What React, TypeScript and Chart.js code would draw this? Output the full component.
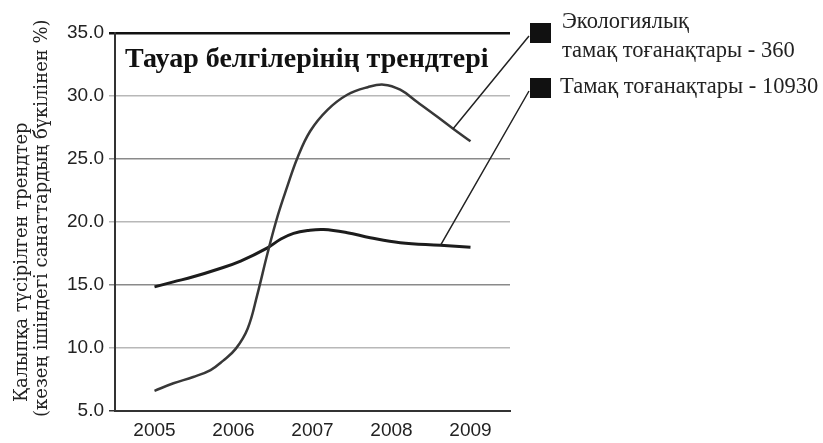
import React, { useEffect, useRef } from 'react';
import { Chart, registerables } from 'chart.js';

Chart.register(...registerables);

const titleText = 'Тауар белгілерінің трендтері';
const yTitleLines = ['Қалыпқа түсірілген трендтер', '(кезең ішіндегі санаттардың бүкілінен %)'];
const ecoLabelLines = ['Экологиялық', 'тамақ тоғанақтары - 360'];
const foodLabel = 'Тамақ тоғанақтары - 10930';
const yearTicks = [2005, 2006, 2007, 2008, 2009];

const ecoYears = [2005.0, 2005.24, 2005.49, 2005.71, 2005.87, 2006.03, 2006.18, 2006.3, 2006.43, 2006.56, 2006.68, 2006.81, 2006.97, 2007.19, 2007.44, 2007.7, 2007.9, 2008.11, 2008.33, 2008.58, 2008.78, 2009.0];
const ecoValues = [6.6, 7.2, 7.7, 8.25, 9.0, 9.95, 11.55, 14.2, 17.5, 20.5, 22.8, 25.1, 27.2, 28.9, 30.1, 30.7, 30.9, 30.5, 29.5, 28.35, 27.4, 26.4];

const foodYears = [2005.0, 2005.24, 2005.49, 2005.8, 2006.09, 2006.43, 2006.6, 2006.76, 2006.95, 2007.14, 2007.44, 2007.73, 2008.11, 2008.62, 2009.0];
const foodValues = [14.85, 15.25, 15.65, 16.25, 16.9, 17.95, 18.65, 19.1, 19.33, 19.4, 19.15, 18.75, 18.35, 18.15, 18.0];

const ecoLeaderIndex = 20;
const foodLeaderIndex = 13;

const decor = {
  id: 'decor',
  afterDraw(chart: any) {
    const ctx = chart.ctx;
    const xs = chart.scales.x;
    const ys = chart.scales.y;
    ctx.save();
    ctx.textAlign = 'left';
    ctx.textBaseline = 'alphabetic';

    // title inside plot
    ctx.fillStyle = '#111';
    ctx.font = 'bold 28px "Liberation Serif"';
    ctx.fillText(titleText, 125, 67);

    // y axis title (two rotated lines)
    ctx.font = '18px "DejaVu Serif"';
    ctx.fillStyle = '#222';
    const pos = [
      [27, 402],
      [47, 417],
    ];
    yTitleLines.forEach((t, i) => {
      ctx.save();
      ctx.translate(pos[i][0], pos[i][1]);
      ctx.rotate(-Math.PI / 2);
      ctx.fillText(t, 0, 0);
      ctx.restore();
    });

    // legend markers
    ctx.fillStyle = '#111';
    ctx.fillRect(530, 23, 21, 20);
    ctx.fillRect(530, 78, 21, 20);

    // legend text
    ctx.font = '22.5px "Liberation Serif"';
    ctx.fillStyle = '#222';
    ctx.fillText(ecoLabelLines[0], 562, 28);
    ctx.fillText(ecoLabelLines[1], 562, 57);
    ctx.fillText(foodLabel, 560, 93);

    // leader lines
    ctx.strokeStyle = '#222';
    ctx.lineWidth = 1.5;
    ctx.beginPath();
    ctx.moveTo(xs.getPixelForValue(ecoYears[ecoLeaderIndex]), ys.getPixelForValue(ecoValues[ecoLeaderIndex]));
    ctx.lineTo(529, 36);
    ctx.moveTo(xs.getPixelForValue(foodYears[foodLeaderIndex]), ys.getPixelForValue(foodValues[foodLeaderIndex]));
    ctx.lineTo(529, 91);
    ctx.stroke();
    ctx.restore();
  },
};

export default function App() {
  const ref = useRef<HTMLCanvasElement | null>(null);

  useEffect(() => {
    if (!ref.current) return;
    const gridColor = (c: any) => {
      const v = c.tick ? c.tick.value : null;
      if (v === 35) return '#111';
      if (v === 5) return '#333';
      if (v === 25 || v === 15) return '#8a8a8a';
      return '#b8b8b8';
    };
    const gridWidth = (c: any) => {
      const v = c.tick ? c.tick.value : null;
      if (v === 35) return 2.5;
      return 1.5;
    };
    const chart = new Chart(ref.current, {
      type: 'line',
      data: {
        datasets: [
          {
            label: ecoLabelLines.join(' '),
            data: ecoYears.map((x, i) => ({ x, y: ecoValues[i] })),
            borderColor: '#383838',
            borderWidth: 2.5,
            pointRadius: 0,
            fill: false,
            tension: 0.4,
          },
          {
            label: foodLabel,
            data: foodYears.map((x, i) => ({ x, y: foodValues[i] })),
            borderColor: '#1c1c1c',
            borderWidth: 3,
            pointRadius: 0,
            fill: false,
            tension: 0.4,
          },
        ],
      },
      options: {
        responsive: false,
        animation: false,
        devicePixelRatio: 1,
        layout: { padding: { left: 0, right: 313, top: 33, bottom: 0 } },
        plugins: {
          legend: { display: false },
          tooltip: { enabled: false },
          title: { display: false },
        },
        scales: {
          x: {
            type: 'linear',
            min: 2004.5,
            max: 2009.5,
            afterBuildTicks: (s: any) => {
              s.ticks = yearTicks.map((v) => ({ value: v }));
            },
            afterFit: (s: any) => {
              s.height = 32;
            },
            grid: { display: false, drawTicks: false },
            border: { display: true, color: '#333', width: 2 },
            ticks: {
              autoSkip: false,
              maxRotation: 0,
              padding: 8,
              color: '#222',
              font: { family: 'Liberation Sans', size: 19 },
              callback: (v: any) => String(v),
            },
          },
          y: {
            type: 'linear',
            min: 5,
            max: 35,
            afterFit: (s: any) => {
              s.width = 115;
            },
            grid: { color: gridColor, lineWidth: gridWidth, drawTicks: true, tickLength: 6 },
            border: { display: true, color: '#333', width: 2 },
            ticks: {
              stepSize: 5,
              padding: 5,
              color: '#222',
              font: { family: 'Liberation Sans', size: 19 },
              callback: (v: any) => Number(v).toFixed(1),
            },
          },
        },
      },
      plugins: [decor],
    } as any);
    return () => chart.destroy();
  }, []);

  return (
    <div style={{ position: 'absolute', left: 0, top: 0, width: 823, height: 443, background: '#fff' }}>
      <canvas ref={ref} width={823} height={443} style={{ display: 'block', width: 823, height: 443 }} />
    </div>
  );
}
